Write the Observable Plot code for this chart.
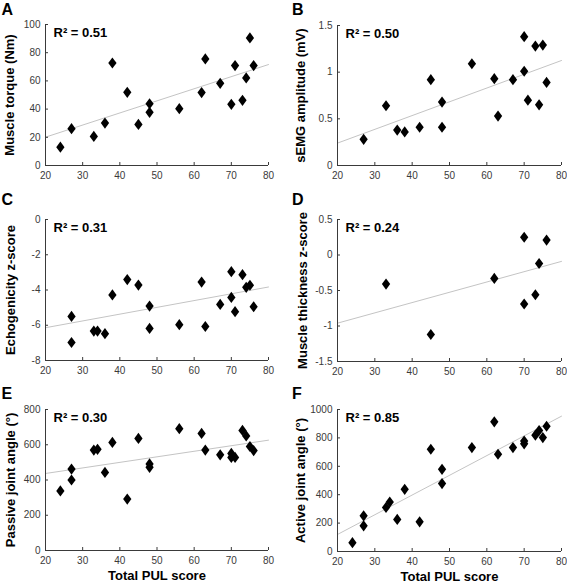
<!DOCTYPE html>
<html><head><meta charset="utf-8">
<script src="https://cdn.jsdelivr.net/npm/d3@7"></script>
<script src="https://cdn.jsdelivr.net/npm/@observablehq/plot@0.6"></script>
<style>
body{margin:0;background:#fff;}
#fig{position:relative;width:567px;height:583px;font-family:"Liberation Sans",Arial,sans-serif;overflow:hidden;}
.panel{position:absolute;}
.panel svg{overflow:visible;}
.letter{position:absolute;font:bold 16px "Liberation Sans",Arial,sans-serif;line-height:1;color:#000;}
</style></head><body><div id="fig"></div>
<script>
// ---- shared axis data ----
const xTicks = [20, 30, 40, 50, 60, 70, 80];
const fitX = [20, 80];
const xLabel = "Total PUL score";

// ---- Panel A ----
const aX = [24, 27, 33, 36, 38, 42, 45, 48, 48, 56, 62, 63, 67, 70, 71, 73, 74, 75, 76];
const aY = [13.0, 26.1, 20.6, 30.1, 72.7, 51.9, 29.1, 43.8, 37.7, 40.3, 51.7, 75.6, 58.3, 43.4, 70.9, 46.2, 62.1, 90.5, 70.9];
const aFit = [20.1, 71.6];
const aTicks = [0, 20, 40, 60, 80, 100];
const aLabel = "Muscle torque (Nm)";
const aR2 = "R² = 0.51";

// ---- Panel B ----
const bX = [27, 33, 36, 38, 42, 45, 48, 48, 56, 62, 63, 67, 70, 70, 71, 73, 74, 75, 76];
const bY = [0.28, 0.64, 0.38, 0.36, 0.41, 0.92, 0.68, 0.41, 1.09, 0.93, 0.53, 0.92, 1.38, 1.01, 0.70, 1.28, 0.65, 1.29, 0.89];
const bFit = [0.24, 1.125];
const bTicks = [0, 0.5, 1, 1.5];
const bLabel = "sEMG amplitude (mV)";
const bR2 = "R² = 0.50";

// ---- Panel C ----
const cX = [27, 27, 33, 34, 36, 38, 42, 45, 48, 48, 56, 62, 63, 67, 70, 70, 71, 73, 74, 75, 76];
const cY = [-5.50, -6.98, -6.33, -6.33, -6.48, -4.28, -3.41, -3.72, -4.91, -6.18, -5.97, -3.55, -6.07, -4.82, -2.96, -4.42, -5.23, -3.13, -3.85, -3.73, -4.95];
const cFit = [-6.14, -3.83];
const cTicks = [-8, -6, -4, -2, 0];
const cLabel = "Echogenicity z-score";
const cR2 = "R² = 0.31";

// ---- Panel D ----
const dX = [33, 45, 62, 70, 70, 73, 74, 76];
const dY = [-0.41, -1.12, -0.33, 0.25, -0.69, -0.56, -0.12, 0.21];
const dFit = [-0.96, -0.09];
const dTicks = [-1.5, -1, -0.5, 0, 0.5];
const dLabel = "Muscle thickness z-score";
const dR2 = "R² = 0.24";

// ---- Panel E ----
const eX = [24, 27, 27, 33, 34, 36, 38, 42, 45, 48, 48, 56, 62, 63, 67, 70, 70, 71, 73, 74, 75, 76];
const eY = [338, 400, 462, 570, 574, 443, 613, 292, 636, 491, 472, 691, 664, 570, 543, 551, 528, 528, 681, 650, 590, 567];
const eFit = [437, 626];
const eTicks = [0, 200, 400, 600, 800];
const eLabel = "Passive joint angle (°)";
const eR2 = "R² = 0.30";

// ---- Panel F ----
const fX = [24, 27, 27, 33, 34, 36, 38, 42, 45, 48, 48, 56, 62, 63, 67, 70, 70, 73, 74, 75, 76];
const fY = [62, 251, 181, 310, 348, 226, 438, 209, 720, 579, 478, 732, 913, 685, 732, 778, 758, 819, 852, 802, 882];
const fFit = [120, 953];
const fTicks = [0, 200, 400, 600, 800, 1000];
const fLabel = "Active joint angle (°)";
const fR2 = "R² = 0.85";

// ---- drawing ----
const FONT = '"Liberation Sans", Arial, sans-serif';
const AXIS = "#3a3a3a";
const fmt = d => String(d);
const diamond = {
  draw(ctx, size) {
    const h = Math.sqrt(size / Math.PI), w = h * 0.74;
    ctx.moveTo(0, -h); ctx.lineTo(w, 0); ctx.lineTo(0, h); ctx.lineTo(-w, 0); ctx.closePath();
  }
};

function panel(p) {
  const pts = p.x.map((x, i) => ({x, y: p.y[i]}));
  const fit = fitX.map((x, i) => ({x, y: p.fit[i]}));
  const ymin = p.ticks[0], ymax = p.ticks[p.ticks.length - 1];
  const marks = [
    Plot.line(fit, {x: "x", y: "y", stroke: "#c4c4c4", strokeWidth: 1}),
    Plot.dot(pts, {x: "x", y: "y", symbol: diamond, r: 5.6, fill: "#000", stroke: "none"}),
    Plot.ruleX([xTicks[0]], {stroke: AXIS}),
    Plot.ruleY([ymin], {stroke: AXIS}),
    Plot.axisX({ticks: xTicks, tickSize: -3, text: null, label: null, stroke: AXIS}),
    Plot.axisX({ticks: xTicks, tickSize: 0, tickPadding: 6, tickFormat: fmt, label: null, fill: AXIS, fontSize: 10}),
    Plot.axisY({ticks: p.ticks, tickSize: -3, text: null, label: null, stroke: AXIS}),
    Plot.axisY({ticks: p.ticks, tickSize: 0, tickPadding: 5, tickFormat: fmt, label: null, fill: AXIS, fontSize: 10}),
    Plot.text([p.label], {text: d => d, frameAnchor: "left", rotate: -90, dx: -p.labelOffset, textAnchor: "middle", lineAnchor: "bottom",
      fontWeight: "bold", fontSize: 13, fill: "#000", fontFamily: FONT}),
    Plot.text([p.r2], {text: d => d, frameAnchor: "top-left", dx: 8, dy: 3, textAnchor: "start", lineAnchor: "top",
      fontWeight: "bold", fontSize: 13, fill: "#000", fontFamily: FONT})
  ];
  if (p.xlab) {
    marks.push(Plot.text([xLabel], {text: d => d, frameAnchor: "bottom", dy: 20, textAnchor: "middle", lineAnchor: "top",
      fontWeight: "bold", fontSize: 13, fill: "#000", fontFamily: FONT}));
  }
  const chart = Plot.plot({
    width: p.w, height: p.h,
    marginLeft: p.mL, marginRight: p.mR, marginTop: p.mT, marginBottom: p.mB,
    style: {fontFamily: FONT, fontSize: "10px", color: AXIS, background: "transparent", overflow: "visible"},
    x: {domain: [20, 80]},
    y: {domain: [ymin, ymax]},
    marks
  });
  const div = document.createElement("div");
  div.className = "panel";
  div.style.left = p.left + "px";
  div.style.top = p.top + "px";
  div.appendChild(chart);
  document.getElementById("fig").appendChild(div);
  const L = document.createElement("div");
  L.className = "letter";
  L.textContent = p.letter;
  L.style.left = p.lx + "px";
  L.style.top = p.ly + "px";
  document.getElementById("fig").appendChild(L);
}

panel({letter: "A", lx: 1.5, ly: 2, left: 0, top: 0, w: 283, h: 190, mL: 45, mR: 15, mT: 24, mB: 25,
  x: aX, y: aY, fit: aFit, ticks: aTicks, label: aLabel, r2: aR2, labelOffset: 32});
panel({letter: "B", lx: 292, ly: 2, left: 283, top: 0, w: 284, h: 190, mL: 54, mR: 6, mT: 25, mB: 25,
  x: bX, y: bY, fit: bFit, ticks: bTicks, label: bLabel, r2: bR2, labelOffset: 33});
panel({letter: "C", lx: 1.5, ly: 192, left: 0, top: 190, w: 283, h: 193, mL: 45, mR: 15, mT: 29, mB: 23,
  x: cX, y: cY, fit: cFit, ticks: cTicks, label: cLabel, r2: cR2, labelOffset: 30.5});
panel({letter: "D", lx: 292, ly: 192, left: 283, top: 190, w: 284, h: 193, mL: 54, mR: 6, mT: 29, mB: 22,
  x: dX, y: dY, fit: dFit, ticks: dTicks, label: dLabel, r2: dR2, labelOffset: 31});
panel({letter: "E", lx: 1.5, ly: 386, left: 0, top: 383, w: 283, h: 200, mL: 45, mR: 15, mT: 26, mB: 33,
  x: eX, y: eY, fit: eFit, ticks: eTicks, label: eLabel, r2: eR2, labelOffset: 31, xlab: true});
panel({letter: "F", lx: 292, ly: 386, left: 283, top: 383, w: 284, h: 200, mL: 54, mR: 6, mT: 26, mB: 32,
  x: fX, y: fY, fit: fFit, ticks: fTicks, label: fLabel, r2: fR2, labelOffset: 32.5, xlab: true});
</script>
</body></html>
